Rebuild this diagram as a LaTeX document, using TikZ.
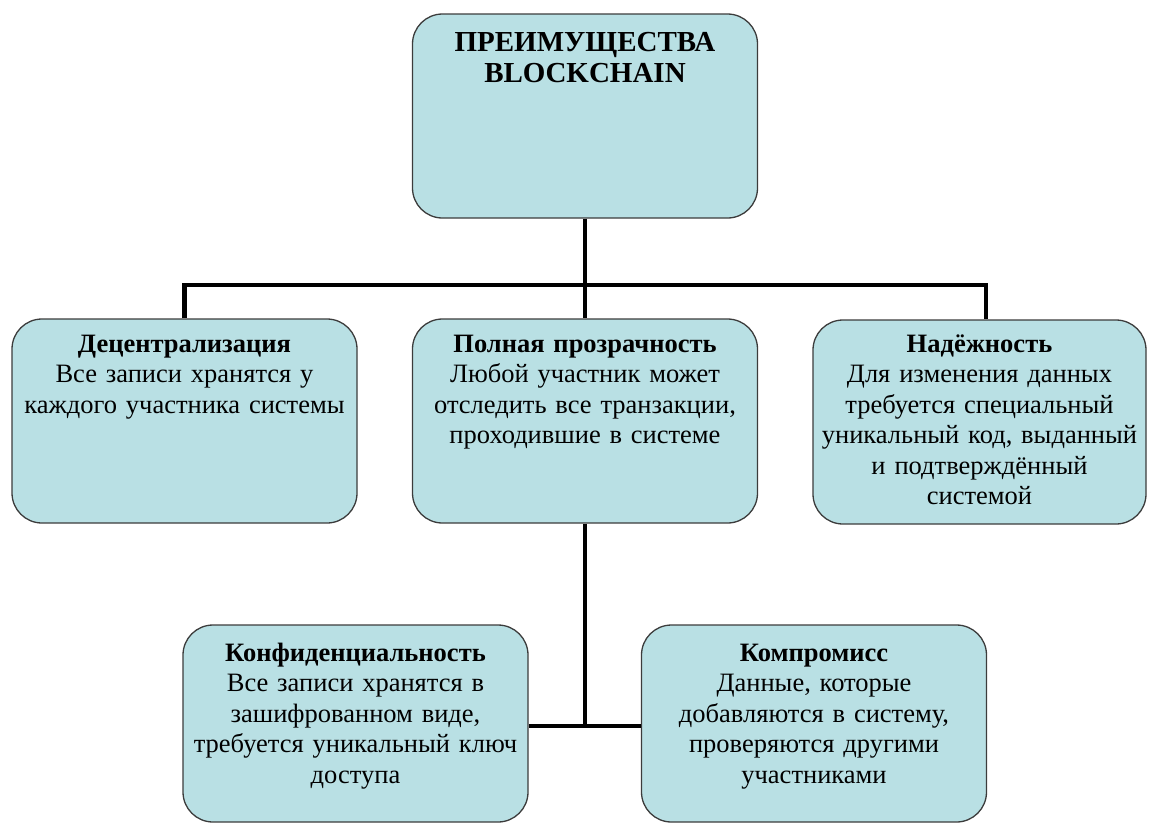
\documentclass[tikz,border=0pt]{standalone}
\usepackage{fontspec}
\setmainfont{Liberation Serif}
\definecolor{boxfill}{RGB}{185,224,228}
\definecolor{boxline}{RGB}{60,60,60}
\tikzset{
  box/.style={draw=boxline, line width=1.3pt, fill=boxfill, rounded corners=30pt,
    minimum width=345pt, minimum height=204pt, inner sep=0pt},
  txt/.style={text width=340pt, align=center, inner sep=0pt, anchor=base,
    font=\fontsize{26.5pt}{30.5pt}\selectfont},
  titletxt/.style={txt, font=\bfseries\fontsize{29pt}{31pt}\selectfont},
  link/.style={line width=4.5pt, draw=black},
}
\begin{document}
\begin{tikzpicture}[x=1pt,y=-1pt]
\useasboundingbox (0,0) rectangle (1149,823);
% boxes
\node[box] (top) at (585,116) {};
\node[box] (dec) at (184.5,421) {};
\node[box] (tra) at (585,421) {};
\node[box, minimum width=333pt] (rel) at (979.5,422) {};
\node[box, minimum height=197pt] (con) at (355.5,723.5) {};
\node[box, minimum height=197pt] (com) at (814,723.5) {};
% connectors
\coordinate (bus) at (585,285);
\coordinate (mid) at (585,726);
\draw[link] (top.south) -- (bus);
\draw[link] (dec.north) |- (bus) -| ([xshift=6.5pt]rel.north);
\draw[link] (bus) -- (tra.north);
\draw[link] (tra.south) -- (mid);
\draw[link] (con.east |- mid) -- (com.west |- mid);
% texts
\node[titletxt] (top-t) at ([yshift=-38pt]top.north) {ПРЕИМУЩЕСТВА\\BLOCKCHAIN};
\node[txt] (dec-t) at ([yshift=-34pt]dec.north) {\textbf{Децентрализация}\\Все записи хранятся у\\каждого участника системы};
\node[txt] (tra-t) at ([yshift=-34pt]tra.north) {\textbf{Полная прозрачность}\\Любой участник может\\отследить все транзакции,\\проходившие в системе};
\node[txt] (rel-t) at ([yshift=-33pt]rel.north) {\textbf{Надёжность}\\Для изменения данных\\требуется специальный\\уникальный код, выданный\\и подтверждённый\\системой};
\node[txt] (con-t) at ([yshift=-37pt]con.north) {\textbf{Конфиденциальность}\\Все записи хранятся в\\зашифрованном виде,\\требуется уникальный ключ\\доступа};
\node[txt] (com-t) at ([yshift=-37pt]com.north) {\textbf{Компромисс}\\Данные, которые\\добавляются в систему,\\проверяются другими\\участниками};
\end{tikzpicture}
\end{document}
